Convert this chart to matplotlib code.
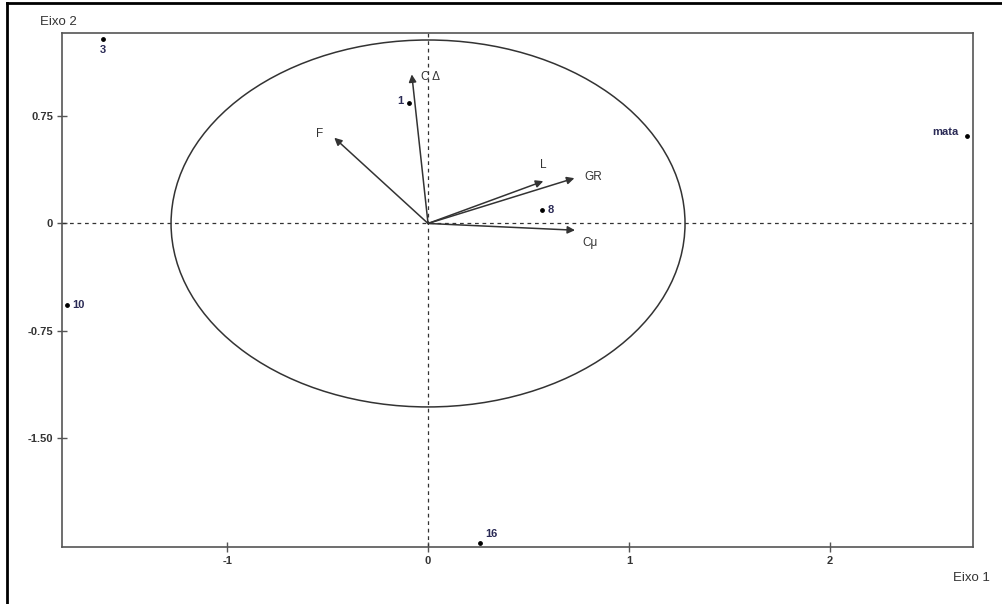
import numpy as np
import matplotlib.pyplot as plt
from matplotlib.patches import Ellipse
from matplotlib.lines import Line2D

# observações (escores nos eixos 1 e 2)
obs_nomes = ['3', '1', '8', 'mata', '10', '16']
obs_x = [-1.62, -0.093, 0.568, 2.686, -1.798, 0.259]
obs_y = [1.284, 0.842, 0.096, 0.612, -0.567, -2.228]

# variáveis (vetores a partir da origem)
var_nomes = ['C Δ', 'F', 'L', 'GR', 'Cμ']
var_x = [-0.081, -0.467, 0.574, 0.729, 0.732]
var_y = [1.04, 0.598, 0.295, 0.316, -0.047]

raio = 1.28
xticks = [-1, 0, 1, 2]
yticks = [0.75, 0, -0.75, -1.50]
ytick_labels = ['0.75', '0', '-0.75', '-1.50']

plt.rcParams['font.family'] = ['Liberation Sans', 'DejaVu Sans']

fig = plt.figure(figsize=(10.02, 6.04), dpi=100)
ax = fig.add_axes([0.0619, 0.0944, 0.9091, 0.851])
ax.set_xlim(-1.823, 2.714)
ax.set_ylim(-2.257, 1.329)

cor_eixo = '#555555'
for s in ax.spines.values():
    s.set_color(cor_eixo)
    s.set_linewidth(1.2)

ax.set_xticks(xticks)
ax.set_xticklabels([str(t) for t in xticks])
ax.set_yticks(yticks)
ax.set_yticklabels(ytick_labels)
ax.tick_params(direction='inout', length=7, width=1, color=cor_eixo,
               labelsize=8, labelcolor='#333333', pad=3)
for lb in ax.get_xticklabels() + ax.get_yticklabels():
    lb.set_fontweight('bold')

# linhas pontilhadas pela origem
ax.axhline(0, color='#333333', lw=0.9, ls=(0, (3, 3)))
ax.axvline(0, color='#333333', lw=0.9, ls=(0, (3, 3)))

# círculo de correlações
ax.add_patch(Ellipse((0, 0), 2 * raio, 2 * raio, fill=False,
                     edgecolor='#333333', lw=1.1))

# vetores das variáveis
offs = {'C Δ': (7, -2, 'left', 'center'), 'F': (-8, 3, 'right', 'center'),
        'L': (0, 7, 'center', 'bottom'), 'GR': (7, 1, 'left', 'center'),
        'Cμ': (5, -5, 'left', 'top')}
for nome, vx, vy in zip(var_nomes, var_x, var_y):
    ax.annotate('', xy=(vx, vy), xytext=(0, 0),
                arrowprops=dict(arrowstyle='-|>', color='#333333', lw=1.1,
                                mutation_scale=11, shrinkA=0, shrinkB=0))
    dx, dy, ha, va = offs[nome]
    ax.annotate(nome, (vx, vy), xytext=(dx, dy), textcoords='offset points',
                ha=ha, va=va, fontsize=8.5, color='#333333')

# observações
ax.scatter(obs_x, obs_y, s=6, color='black', zorder=3)
obs_offs = {'3': (0, -4, 'center', 'top'), '1': (-4, 1, 'right', 'center'),
            '8': (4, 0, 'left', 'center'), 'mata': (-6, 3, 'right', 'center'),
            '10': (4, 0, 'left', 'center'), '16': (4, 3, 'left', 'bottom')}
for nome, ox, oy in zip(obs_nomes, obs_x, obs_y):
    dx, dy, ha, va = obs_offs[nome]
    ax.annotate(nome, (ox, oy), xytext=(dx, dy), textcoords='offset points',
                ha=ha, va=va, fontsize=8, color='#2a2a55', fontweight='bold')

# títulos dos eixos
fig.text(40 / 1002, 1 - 22 / 604, 'Eixo 2', fontsize=9.5, color='#333333',
         ha='left', va='center')
fig.text(990 / 1002, 1 - 578 / 604, 'Eixo 1', fontsize=9.5, color='#333333',
         ha='right', va='center')

# moldura externa (esquerda e topo)
fig.add_artist(Line2D([7 / 1002, 7 / 1002], [0, 1 - 3 / 604],
                      transform=fig.transFigure, color='black', lw=2))
fig.add_artist(Line2D([7 / 1002, 1], [1 - 3 / 604, 1 - 3 / 604],
                      transform=fig.transFigure, color='black', lw=2))

fig.savefig('out.png', dpi=100)
